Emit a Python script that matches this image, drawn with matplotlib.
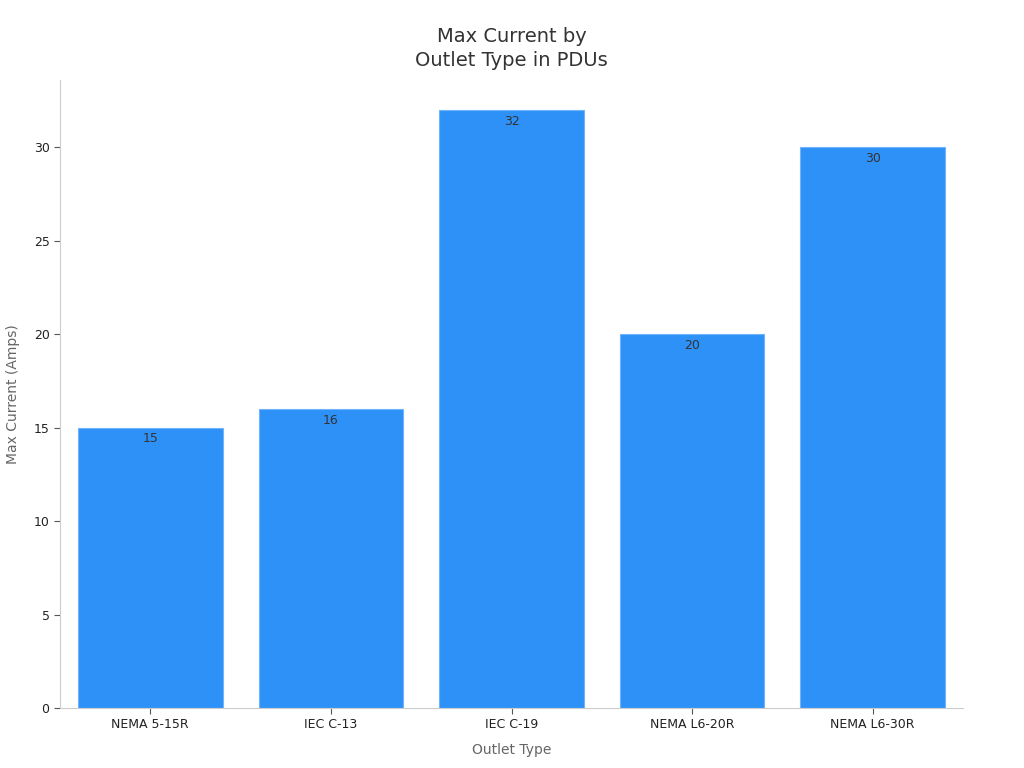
import matplotlib
matplotlib.use("Agg")
import matplotlib.pyplot as plt

outlet_types = ["NEMA 5-15R", "IEC C-13", "IEC C-19", "NEMA L6-20R", "NEMA L6-30R"]
max_current = [15, 16, 32, 20, 30]


def main():
    fig = plt.figure(figsize=(10.24, 7.68), dpi=100)
    ax = fig.add_axes([60 / 1024, 1 - 708 / 768, 903 / 1024, 628 / 768])

    x = range(len(outlet_types))
    bars = ax.bar(x, max_current, width=0.8, color="#2e91f8",
                  edgecolor="#6fb3fb", linewidth=0.8)

    for rect, val in zip(bars, max_current):
        ax.text(rect.get_x() + rect.get_width() / 2, val - 0.25, str(val),
                ha="center", va="top", fontsize=9, color="#333333")

    ax.set_xlim(-0.5, len(outlet_types) - 0.5)
    ax.set_ylim(0, max(max_current) * 1.05)
    ax.set_xticks(list(x))
    ax.set_xticklabels(outlet_types)
    ax.set_yticks([0, 5, 10, 15, 20, 25, 30])

    for side in ["top", "right"]:
        ax.spines[side].set_visible(False)
    for side in ["left", "bottom"]:
        ax.spines[side].set_color("#cccccc")
        ax.spines[side].set_linewidth(0.8)

    ax.tick_params(axis="both", labelsize=9, colors="#222222", length=4, width=0.8)
    ax.tick_params(axis="both", color="#555555")

    ax.set_xlabel("Outlet Type", fontsize=10, color="#666666", labelpad=8)
    ax.set_ylabel("Max Current (Amps)", fontsize=10, color="#666666", labelpad=10)
    ax.set_title("Max Current by\nOutlet Type in PDUs", fontsize=14, color="#333333",
                 pad=10, linespacing=1.35)

    fig.savefig("out.png", dpi=100)
    plt.close(fig)


if __name__ == "__main__":
    main()
